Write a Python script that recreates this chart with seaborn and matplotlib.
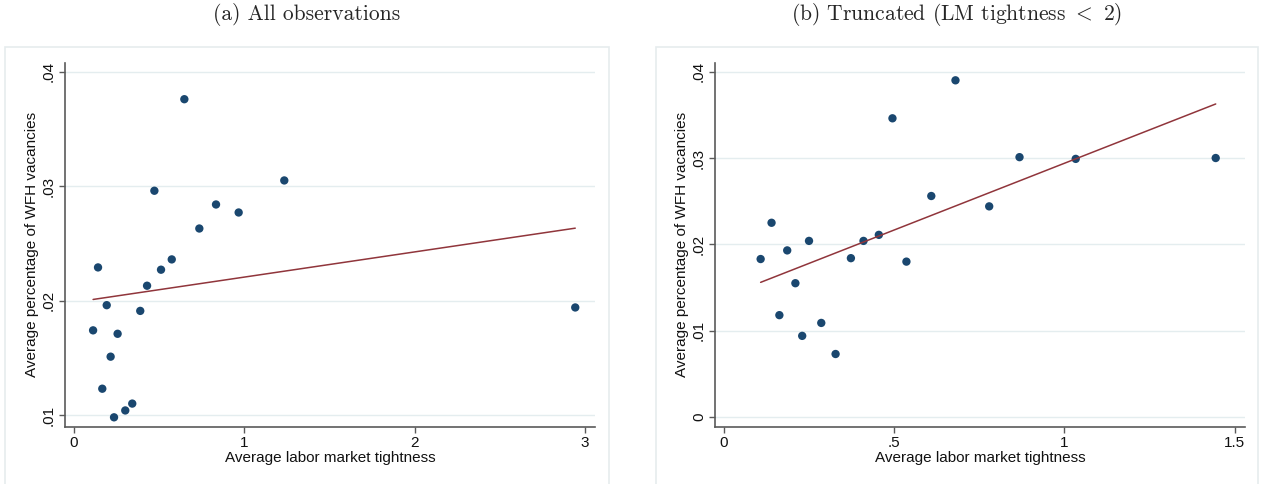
import numpy as np
import pandas as pd
import matplotlib
matplotlib.use("Agg")
import matplotlib.pyplot as plt
from matplotlib.patches import Rectangle
from matplotlib.ticker import FuncFormatter
import seaborn as sns

# ---- data ----
tight_all = [0.648, 0.472, 1.235, 0.834, 0.967, 0.736, 0.141, 0.511, 0.574, 0.429,
             0.192, 0.389, 0.112, 0.256, 0.215, 0.166, 0.342, 0.301, 0.235, 2.944]
wfh_all = [0.0376, 0.0296, 0.0305, 0.0284, 0.0277, 0.0263, 0.0229, 0.0227, 0.0236, 0.0213,
           0.0196, 0.0191, 0.0174, 0.0171, 0.0151, 0.0123, 0.0110, 0.0104, 0.0098, 0.0194]

tight_trunc = [0.680, 0.495, 0.609, 0.140, 0.250, 0.410, 0.455, 0.186, 0.108, 0.373,
               0.536, 0.210, 0.163, 0.286, 0.230, 0.328, 0.868, 1.033, 1.444, 0.779]
wfh_trunc = [0.0390, 0.0346, 0.0256, 0.0225, 0.0204, 0.0204, 0.0211, 0.0193, 0.0183, 0.0184,
             0.0180, 0.0155, 0.0118, 0.0109, 0.0094, 0.0073, 0.0301, 0.0299, 0.0300, 0.0244]

# fitted lines (endpoints)
fit_x_all = [0.112, 2.944]
fit_y_all = [0.0201, 0.02633]
fit_x_trunc = [0.108, 1.444]
fit_y_trunc = [0.0156, 0.03626]

titles = ["(a) All observations", "(b) Truncated (LM tightness $<$ 2)"]
xlabel = "Average labor market tightness"
ylabel = "Average percentage of WFH vacancies"
xticks_a = [0, 1, 2, 3]
yticks_a = [0.01, 0.02, 0.03, 0.04]
xticks_b = [0, 0.5, 1, 1.5]
yticks_b = [0, 0.01, 0.02, 0.03, 0.04]

sns.set_theme(style="white")
plt.rcParams["font.family"] = ["Liberation Sans", "DejaVu Sans"]
plt.rcParams["mathtext.fontset"] = "cm"

NAVY = "#1a476f"
MAROON = "#90353b"
AXC = "#5a5a5a"
GRIDC = "#e4edef"
BOXC = "#e6ecee"

W, H = 1262, 484
fig = plt.figure(figsize=(W / 100, H / 100), dpi=100)

def fx(px):
    return px / W

def fy(py):
    return 1 - py / H

ax_a = fig.add_axes([fx(65), fy(426.7), fx(595) - fx(65), fy(62.7) - fy(426.7)])
ax_b = fig.add_axes([fx(715), fy(426.7), fx(1245) - fx(715), fy(62.7) - fy(426.7)])

# outer panel boxes
for x0, x1 in [(5, 609), (656, 1258)]:
    fig.patches.append(Rectangle((fx(x0), -0.02), fx(x1) - fx(x0), fy(46.7) + 0.02,
                                 transform=fig.transFigure, fill=False,
                                 edgecolor=BOXC, linewidth=1.2, zorder=0))

def strip0(v, pos=None):
    if abs(v) < 1e-12:
        return "0"
    s = f"{v:g}"
    if s.startswith("0."):
        s = s[1:]
    return s

def yfmt(v, pos=None):
    if abs(v) < 1e-12:
        return "0"
    return f"{v:.2f}".lstrip("0")

panels = [
    (ax_a, tight_all, wfh_all, fit_x_all, fit_y_all, xticks_a, yticks_a,
     (-0.053, 3.06), (0.00898, 0.04079)),
    (ax_b, tight_trunc, wfh_trunc, fit_x_trunc, fit_y_trunc, xticks_b, yticks_b,
     (-0.026, 1.53), (-0.00112, 0.04104)),
]

for i, (ax, xs, ys, fxs, fys, xt, yt, xl, yl) in enumerate(panels):
    df = pd.DataFrame({"x": xs, "y": ys})
    sns.scatterplot(data=df, x="x", y="y", ax=ax, s=36, color=NAVY,
                    edgecolor="none", zorder=3)
    sns.lineplot(x=fxs, y=fys, ax=ax, color=MAROON, lw=1.1, zorder=4,
                 estimator=None, sort=False)
    ax.set_xlim(*xl)
    ax.set_ylim(*yl)
    ax.set_xticks(xt)
    ax.set_yticks(yt)
    ax.xaxis.set_major_formatter(FuncFormatter(strip0))
    ax.yaxis.set_major_formatter(FuncFormatter(yfmt))
    ax.grid(axis="y", color=GRIDC, lw=1.0)
    ax.grid(axis="x", visible=False)
    ax.set_axisbelow(True)
    for s in ["top", "right"]:
        ax.spines[s].set_visible(False)
    for s in ["left", "bottom"]:
        ax.spines[s].set_color(AXC)
        ax.spines[s].set_linewidth(1.2)
    ax.tick_params(axis="both", direction="out", length=4.5, width=1.0, color=AXC,
                   labelsize=11, labelcolor="#111111", bottom=True, left=True, pad=2)
    for lab in ax.get_yticklabels():
        lab.set_rotation(90)
        lab.set_va("center")
    ax.set_xlabel(xlabel, fontsize=11, color="#111111", labelpad=1)
    ax.set_ylabel(ylabel, fontsize=11, color="#111111", labelpad=2)
    ax.set_facecolor("white")

# panel titles (serif, LaTeX-like)
fig.text(fx(307), fy(15), titles[0], ha="center", va="center",
         fontsize=15.5, family=["cmr10", "DejaVu Serif"])
fig.text(fx(957), fy(15), titles[1], ha="center", va="center",
         fontsize=15.5, family=["cmr10", "DejaVu Serif"])

fig.savefig("out.png", dpi=100, facecolor="white")
